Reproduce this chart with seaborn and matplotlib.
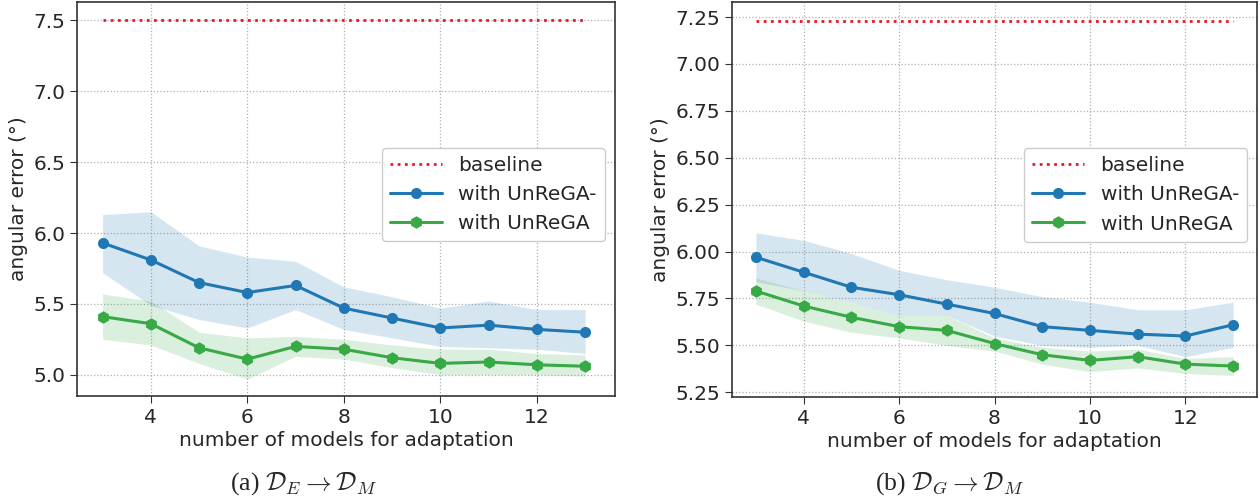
import numpy as np
import pandas as pd
import seaborn as sns
import matplotlib.pyplot as plt

# === data ===
n_models = [3, 4, 5, 6, 7, 8, 9, 10, 11, 12, 13]

# (a) D_E -> D_M
baseline_a = 7.5
minus_a = [5.93, 5.81, 5.65, 5.58, 5.63, 5.47, 5.40, 5.33, 5.35, 5.32, 5.30]
minus_a_hi = [6.13, 6.15, 5.91, 5.83, 5.80, 5.62, 5.55, 5.47, 5.52, 5.46, 5.46]
minus_a_lo = [5.72, 5.49, 5.39, 5.33, 5.46, 5.32, 5.26, 5.20, 5.19, 5.18, 5.15]
full_a = [5.41, 5.36, 5.19, 5.11, 5.20, 5.18, 5.12, 5.08, 5.09, 5.07, 5.06]
full_a_hi = [5.57, 5.52, 5.30, 5.26, 5.27, 5.25, 5.21, 5.18, 5.18, 5.15, 5.14]
full_a_lo = [5.25, 5.21, 5.08, 4.97, 5.13, 5.11, 5.05, 5.00, 5.00, 5.00, 4.99]

# (b) D_G -> D_M
baseline_b = 7.23
minus_b = [5.97, 5.89, 5.81, 5.77, 5.72, 5.67, 5.60, 5.58, 5.56, 5.55, 5.61]
minus_b_hi = [6.10, 6.06, 5.99, 5.90, 5.85, 5.81, 5.76, 5.73, 5.69, 5.69, 5.73]
minus_b_lo = [5.84, 5.79, 5.73, 5.66, 5.66, 5.55, 5.50, 5.49, 5.50, 5.44, 5.49]
full_b = [5.79, 5.71, 5.65, 5.60, 5.58, 5.51, 5.45, 5.42, 5.44, 5.40, 5.39]
full_b_hi = [5.86, 5.79, 5.73, 5.66, 5.66, 5.54, 5.49, 5.47, 5.48, 5.43, 5.44]
full_b_lo = [5.72, 5.63, 5.57, 5.54, 5.50, 5.47, 5.40, 5.36, 5.38, 5.35, 5.34]

captions = [r"(a) $\mathcal{D}_E \rightarrow \mathcal{D}_M$",
            r"(b) $\mathcal{D}_G \rightarrow \mathcal{D}_M$"]

BLUE = "#1f77b4"
GREEN = "#37a945"
RED = "#e8182a"

sns.set_style("ticks")
plt.rcParams["font.family"] = ["DejaVu Sans"]
plt.rcParams["mathtext.fontset"] = "cm"

fig = plt.figure(figsize=(12.6, 5), dpi=100)
ax_a = fig.add_axes([77 / 1260, 1 - 396 / 500, 538 / 1260, 394 / 500])
ax_b = fig.add_axes([732 / 1260, 1 - 397 / 500, 525 / 1260, 395 / 500])


def draw(ax, base, m, m_hi, m_lo, f, f_hi, f_lo, xlim, ylim, yticks):
    df = pd.DataFrame({"n": n_models, "base": [base] * len(n_models), "m": m, "f": f})
    ax.fill_between(df["n"], m_lo, m_hi, color=BLUE, alpha=0.18, lw=0)
    ax.fill_between(df["n"], f_lo, f_hi, color=GREEN, alpha=0.18, lw=0)
    sns.lineplot(data=df, x="n", y="base", ax=ax, color=RED, lw=2,
                 linestyle=(0, (1, 1.6)), label="baseline")
    sns.lineplot(data=df, x="n", y="m", ax=ax, color=BLUE, lw=2.2,
                 marker="o", markersize=8, markeredgewidth=0, label="with UnReGA-")
    sns.lineplot(data=df, x="n", y="f", ax=ax, color=GREEN, lw=2.2,
                 marker="h", markersize=9, markeredgewidth=0, label="with UnReGA")
    ax.set_xlim(*xlim)
    ax.set_ylim(*ylim)
    ax.set_xticks([4, 6, 8, 10, 12])
    ax.set_yticks(yticks)
    ax.grid(True, linestyle=":", color="#b0b0b0", lw=0.9)
    ax.tick_params(labelsize=14.5, length=5, color="#333333")
    for s in ax.spines.values():
        s.set_color("#333333")
        s.set_linewidth(1.2)
    ax.set_xlabel("number of models for adaptation", fontsize=14.5, labelpad=3)
    ax.set_ylabel("angular error (°)", fontsize=14.5)
    ax.legend(loc="upper right", bbox_to_anchor=(1.0, 0.655), fontsize=14.5,
              framealpha=1, edgecolor="#cccccc", handlelength=2.6)


draw(ax_a, baseline_a, minus_a, minus_a_hi, minus_a_lo, full_a, full_a_hi, full_a_lo,
     (2.47, 13.62), (4.85, 7.63), [5.0, 5.5, 6.0, 6.5, 7.0, 7.5])
draw(ax_b, baseline_b, minus_b, minus_b_hi, minus_b_lo, full_b, full_b_hi, full_b_lo,
     (2.5, 13.5), (5.225, 7.33), [5.25, 5.5, 5.75, 6.0, 6.25, 6.5, 6.75, 7.0, 7.25])
ax_a.yaxis.set_major_formatter(plt.FormatStrFormatter("%.1f"))
ax_b.yaxis.set_major_formatter(plt.FormatStrFormatter("%.2f"))

fig.text(304 / 1260, 1 - 484 / 500, captions[0], ha="center", va="center",
         fontsize=18.5, family="Liberation Serif")
fig.text(950 / 1260, 1 - 484 / 500, captions[1], ha="center", va="center",
         fontsize=18.5, family="Liberation Serif")

fig.savefig("out.png", dpi=100)
